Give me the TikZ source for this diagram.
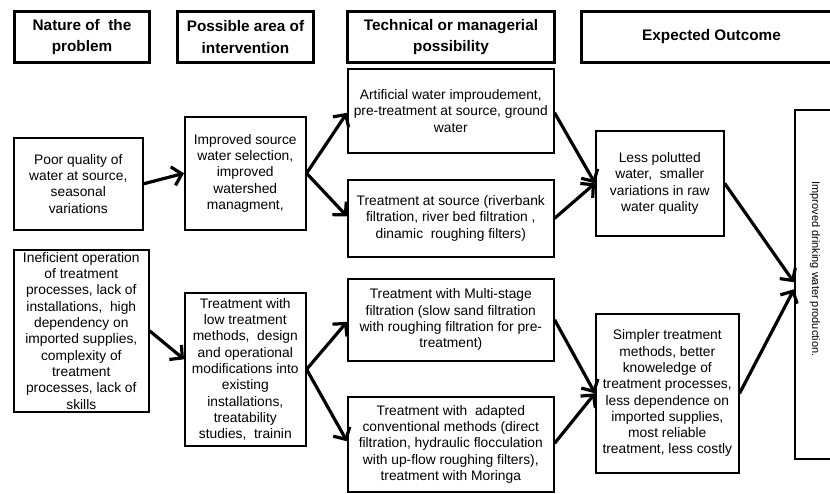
\documentclass[tikz,border=0pt]{standalone}
\usepackage{fontspec}
\setmainfont{Liberation Sans}
\usetikzlibrary{arrows.meta}
\begin{document}
\begin{tikzpicture}[x=1pt,y=-1pt,
  hdr/.style={draw, line width=3pt, anchor=north west, align=center, inner sep=0pt,
    font=\fontsize{15.3}{21.5}\selectfont\bfseries},
  box/.style={draw, line width=1.6pt, anchor=north west, align=center, inner sep=0pt,
    font=\fontsize{13.8}{16.3}\selectfont},
  arr/.style={line width=3.2pt, -{Straight Barb[length=9pt,width=19pt,line width=3.2pt]}}
]
\useasboundingbox (0,0) rectangle (830,493);
% headers
\node[hdr, minimum width=135, minimum height=51] (H1) at (13,10) {Nature of\ \ the\\problem};
\node[hdr, minimum width=136, minimum height=51] (H2) at (176,10) {Possible area of\\intervention};
\node[hdr, minimum width=207, minimum height=51] (H3) at (346,10) {Technical or managerial\\possibility};
\node[hdr, minimum width=260, minimum height=51] (H4) at (580,10) {Expected Outcome};
% column 1
\node[box, minimum width=129, minimum height=92] (P1) at (13,137) {Poor quality of\\water at source,\\seasonal\\variations};
\node[box, minimum width=135, minimum height=162] (P2) at (13,249) {Ineficient operation\\of treatment\\processes, lack of\\installations,\ \ high\\dependency on\\imported supplies,\\complexity of\\treatment\\processes, lack of\\skills};
% column 2
\node[box, minimum width=121, minimum height=113] (I1) at (184,116) {Improved source\\water selection,\\improved\\watershed\\managment,};
\node[box, minimum width=121, minimum height=153] (I2) at (184,292) {Treatment with\\low treatment\\methods,\ \ design\\and operational\\modifications into\\existing\\installations,\\treatability\\studies,\ \ trainin};
% column 3
\node[box, minimum width=206, minimum height=84] (T1) at (347,68) {Artificial water improudement,\\pre-treatment at source, ground\\water};
\node[box, minimum width=206, minimum height=77] (T2) at (347,179) {Treatment at source (riverbank\\filtration, river bed filtration ,\\dinamic\ \ roughing filters)};
\node[box, minimum width=206, minimum height=82] (T3) at (347,278) {Treatment with Multi-stage\\filtration (slow sand filtration\\with roughing filtration for pre-\\treatment)};
\node[box, minimum width=206, minimum height=95] (T4) at (347,396) {Treatment with\ \ adapted\\conventional methods (direct\\filtration, hydraulic flocculation\\with up-flow roughing filters),\\treatment with Moringa};
% column 4
\node[box, minimum width=128, minimum height=105] (O1) at (595,130) {Less polutted\\water,\ \ smaller\\variations in raw\\water quality};
\node[box, minimum width=143, minimum height=159] (O2) at (595,313) {Simpler treatment\\methods, better\\knoweledge of\\treatment processes,\\less dependence on\\imported supplies,\\most reliable\\treatment, less costly};
% final
\node[box, minimum width=46, minimum height=349] (F) at (794,109) {};
\node[rotate=-90, inner sep=0pt, font=\fontsize{11}{13}\selectfont] (Ft) at (815,269) {Improved drinking water production.};
% arrows
\draw[arr] (P1.east) -- (I1.west);
\draw[arr] (I1.east) -- ([yshift=-2pt]T1.west);
\draw[arr] (I1.east) -- ([yshift=2pt]T2.west);
\draw[arr] ([yshift=-2pt]T1.east) -- (O1.west);
\draw[arr] (T2.east) -- (O1.west);
\draw[arr] (O1.east) -- ([yshift=2pt]F.west);
\draw[arr] (O2.east) -- ([yshift=-5pt]F.west);
\draw[arr] (P2.east) -- ([yshift=10pt]I2.west);
\draw[arr] (I2.east) -- ([yshift=-2pt]T3.west);
\draw[arr] (I2.east) -- ([yshift=3pt]T4.west);
\draw[arr] (T3.east) -- (O2.west);
\draw[arr] ([yshift=1pt]T4.east) -- (O2.west);
\end{tikzpicture}
\end{document}
